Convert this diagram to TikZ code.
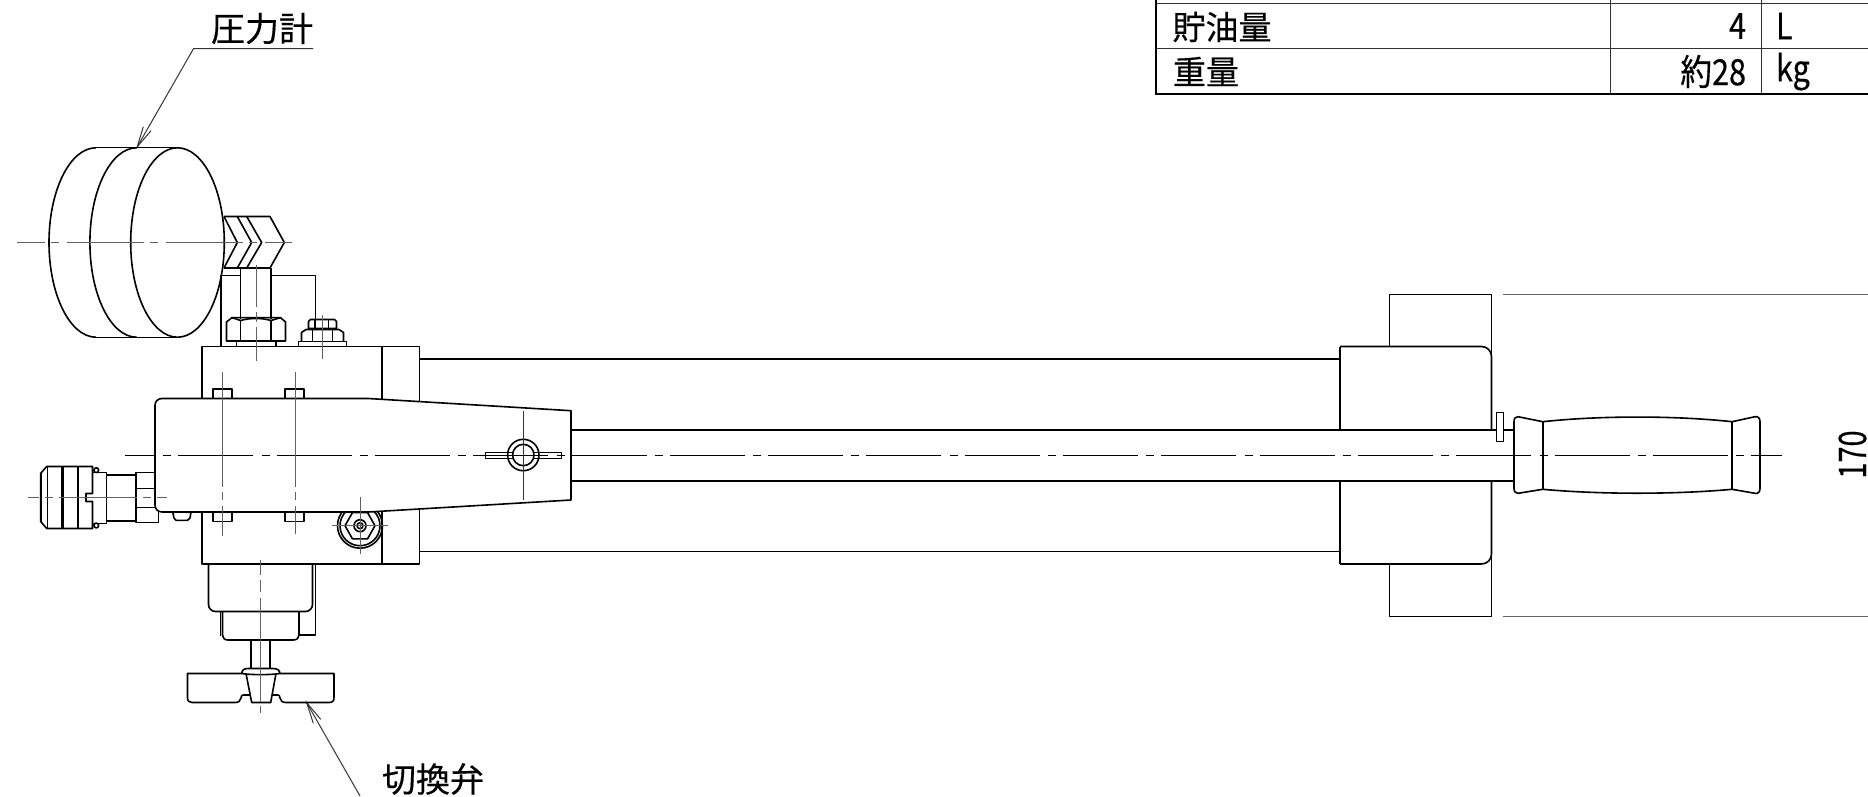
\documentclass[tikz,border=0pt]{standalone}
\usepackage{fontspec}
\usepackage{graphicx}
\setmainfont{Noto Sans CJK JP}[UprightFeatures={FakeBold=0.4}]
\tikzset{
  ln/.style={draw=black,line width=1.6pt,line join=round},
  fl/.style={ln,fill=white},
  thk/.style={draw=black,line width=2.2pt},
  tn/.style={draw=black!80,line width=1pt},
  cl/.style={draw=black!62,line width=1pt},
  clm/.style={draw=black,line width=1pt},
  lbl/.style={inner sep=0pt,outer sep=0pt,font=\fontsize{33}{33}\selectfont},
  nar/.style={inner sep=0pt,outer sep=0pt,font=\fontsize{36}{36}\selectfont},
  ext/.style={draw=black!60,line width=1.4pt}
}
\begin{document}
\begin{tikzpicture}[x=1pt,y=-1pt]
\useasboundingbox (0,0) rectangle (1868,796);
% table
\draw[tn] (1156,3.5) -- (1868,3.5);
\draw[tn] (1156,48.5) -- (1868,48.5);
\draw[tn] (1610.5,0) -- (1610.5,94.3);
\draw[tn] (1761.5,0) -- (1761.5,94.3);
\draw[thk] (1156,0) -- (1156,94.3) -- (1868,94.3);
\node[lbl] (t1) at (1222,27) {貯油量};
\node[lbl] (t2) at (1206,71.5) {重量};
\node[nar,anchor=east] (t3) at (1746,26) {\scalebox{.85}[1]{4}};
\node[nar,anchor=east] (t4) at (1746,71.5) {\scalebox{.88}[1]{約}\scalebox{.85}[1]{28}};
\node[nar,anchor=west] (t5) at (1776,26) {\scalebox{.85}[1]{L}};
\node[nar,anchor=west] (t6) at (1776,71.5) {\scalebox{.85}[1]{kg}};
% labels
\node[lbl,font=\fontsize{34}{34}\selectfont] (p1) at (262,28.5) {圧力計};
\node[lbl,font=\fontsize{34}{34}\selectfont] (p2) at (433,779) {切換弁};
\node[nar,rotate=90,font=\fontsize{38}{38}\selectfont] (dim) at (1852.5,454.5) {\scalebox{.76}[1]{170}};
\draw[ext] (1503,294.5) -- (1868,294.5);
\draw[ext] (1503,616.5) -- (1868,616.5);
% leaders
\draw[tn] (313,48.7) -- (193.5,48.7) -- (137.3,146.7);
\draw[tn] (143.3,126.7) -- (137.3,146.7) -- (151,130.7);
\draw[tn] (360,796) -- (306.7,702.7);
\draw[tn] (313.3,723.3) -- (306.7,702.7) -- (320.7,719.3);
% gauge mount
\draw[ln] (221,346.5) -- (221,275.5) -- (240.5,275.5);
\draw[ln] (271,275.5) -- (315.5,275.5) -- (315.5,319);
\draw[ln] (224,216.5) -- (270,216.5) -- (284.3,242.5) -- (270,268) -- (224,268);
\draw[ln] (224,216.5) -- (237.3,242.5) -- (224,268);
\draw[ln] (237.3,216.5) -- (251.7,242.5) -- (237.3,268);
\draw[ln] (246.7,216.5) -- (261.7,242.5) -- (246.7,268);
\draw[ln] (240.5,268) -- (240.5,319) (271,268) -- (271,319);
% gauge
\draw[ln] (96,147.8) arc[start angle=90,end angle=270,x radius=47pt,y radius=94.7pt];
\draw[ln] (136.7,147.8) arc[start angle=90,end angle=270,x radius=46.8pt,y radius=94.7pt];
\draw[ln] (96,147.5) -- (177.5,147.5) (96,337.5) -- (177.5,337.5);
\draw[ln] (177.5,242.5) circle[x radius=46.8pt,y radius=94.7pt];
% big nut
\draw[ln] (236.5,341) rectangle (276,346.5);
\draw[ln] (226.5,341) -- (226.5,322) -- (232,317.6) -- (280.5,317.6) -- (285.5,322) -- (285.5,341) -- cycle;
\draw[ln] (240.5,341) -- (240.5,320.5) (271,341) -- (271,320.5);
\draw[ln] (232,317.6) -- (240.5,320.5) .. controls (250,317.8) and (262,317.8) .. (271,320.5) -- (280.5,317.6);
% small nut
\draw[ln] (298.5,341.5) rectangle (346.5,346.5);
\draw[ln] (301.5,341.5) -- (301.5,332.5) -- (306,329.5) -- (339,329.5) -- (343.5,332.5) -- (343.5,341.5);
\draw[ln] (312.5,341.5) -- (312.5,330) (332.5,341.5) -- (332.5,330);
\draw[ln] (308.5,328.5) -- (308.5,321.5) -- (310.5,319.5) -- (334.5,319.5) -- (336.5,321.5) -- (336.5,328.5) -- cycle;
\draw[ln] (315,328.5) -- (315,319.5) (328.5,328.5) -- (328.5,319.5);
% body block
\draw[ln] (202,346.5) rectangle (419.5,564);
\draw[ln] (382,346.5) -- (382,564);
\draw[ln] (420,359) -- (1340,359) (420,551.5) -- (1340,551.5);
% rear plate and block
\draw[ln] (1389.5,346.5) -- (1389.5,294.5) -- (1491.5,294.5) -- (1491.5,356);
\draw[ln] (1389.5,564) -- (1389.5,616.5) -- (1491.5,616.5) -- (1491.5,555);
\draw[ln] (1340,346.5) -- (1481.5,346.5) arc[start angle=90,end angle=0,radius=10pt] -- (1491.5,430);
\draw[ln] (1340,564) -- (1481.5,564) arc[start angle=270,end angle=360,radius=10pt] -- (1491.5,481);
\draw[ln] (1340,346.5) -- (1340,564);
% rod
\path[fill=white] (571,430) rectangle (1496.5,481);
\draw[ln] (571,430) -- (1496.5,430) (571,481) -- (1514,481) (1503.5,430) -- (1514,430);
\draw[fl] (1496.5,412.5) rectangle (1503.5,441.5);
% handle
\draw[fl] (1518,416.7) -- (1542.8,421.7) .. controls (1600,415.5) and (1675,415.5) .. (1732,421.7) -- (1755,416.7)
  .. controls (1758,416.2) and (1760,418) .. (1760,421.7) -- (1760,488.3)
  .. controls (1760,492) and (1758,494) .. (1755,493.3) -- (1732,489.3)
  .. controls (1675,494.5) and (1600,494.5) .. (1542.8,489.3) -- (1518,493.3)
  .. controls (1515.5,493.6) and (1514,491.5) .. (1514,488.3) -- (1514,421.7)
  .. controls (1514,418.5) and (1515.5,416.4) .. (1518,416.7) -- cycle;
\draw[ln] (1542.8,421.7) -- (1542.8,489.3) (1732,421.7) -- (1732,489.3);
% side fitting
\draw[ln] (360,525.7) circle[radius=22.5pt];
\draw[ln] (360,525.7) circle[radius=20pt];
\draw[ln] (345,525.7) -- (352.5,512.5) -- (367.5,512.5) -- (375,525.7) -- (367.5,538.9) -- (352.5,538.9) -- cycle;
\draw[ln] (360,525.7) circle[radius=6pt];
\draw[ln] (360,525.7) circle[radius=3pt];
% screws
\foreach \bx in {212.7,285}{
  \draw[ln] (\bx,398.5) -- (\bx,389) -- ++(19.2,0) -- ++(0,9.5);
  \draw[ln] (\bx,512) -- (\bx,521.5) -- ++(19.2,0) -- ++(0,-9.5);
}
% coupler
\draw[ln] (155,472.5) -- (136,472.5) -- (136,522.5) -- (158.5,522.5) -- (158.5,510);
\draw[ln] (136,488.5) -- (155,488.5) (136,507.5) -- (155,507.5);
\draw[ln] (136,475) -- (106.5,475) (106.5,521) -- (136,521);
\draw[ln] (92.5,472.5) -- (106.5,472.5) -- (106.5,523.5) -- (92.5,523.5);
\draw[ln] (46.7,466.5) -- (92.5,466.5) -- (92.5,493.5) -- (86,493.5) -- (86,501.5) -- (92.5,501.5) -- (92.5,528.5) -- (46.7,528.5) -- (40.7,521.5) -- (40.7,473.3) -- cycle;
\draw[line width=1.9pt] (40.7,473.3) -- (40.7,521.5);
\draw[ln] (47.5,466.5) -- (47.5,528.5);
\draw[thk] (62.5,466.5) -- (62.5,528.5) (78,466.5) -- (78,528.5);
\draw[ln] (96.3,470.2) circle[radius=2.4pt] (96.3,525.5) circle[radius=2.4pt];
\draw[ln] (172.7,512) -- (174,518) -- (176,520.3) -- (187.5,520.3) -- (190,518) -- (191,512);
% arm
\path[fill=white] (163,398.5) -- (368.3,398.5) -- (571,410.7) -- (571,500) -- (368.3,512) -- (163,512) -- (155,505) -- (155,405) -- cycle;
\draw[ln] (155,505) .. controls (155,509) and (158,512) .. (162,512) -- (368.3,512) -- (571,500) -- (571,410.7) -- (368.3,398.5) -- (162,398.5) .. controls (158,398.5) and (155,401.3) .. (155,405.3) -- cycle;
% valve
\draw[ln] (312.5,564) -- (312.5,604.5) arc[start angle=0,end angle=-90,radius=7pt] -- (215.5,611.5) arc[start angle=270,end angle=180,radius=7pt] -- (208.5,564);
\draw[ln] (315.5,564) -- (315.5,635) -- (299,635);
\draw[ln] (222.5,611.5) -- (222.5,635) .. controls (222.5,638) and (224.5,640) .. (228,640) -- (293,640) .. controls (297,640) and (299,638) .. (299,635) -- (299,611.5);
\draw[line width=1.4pt] (220.5,612) -- (220.5,635.5);
\draw[ln] (251,640) -- (251,668.5) (270,640) -- (270,668.5);
% knob
\draw[ln] (241.7,673.5) -- (187.5,673.5) -- (187.5,697.5) .. controls (187.5,701) and (189,702.5) .. (192,702.5) -- (235,702.5) .. controls (238.5,702.5) and (240.5,701) .. (241,698) .. controls (241.3,696) and (241.7,695) .. (243,695) -- (249.8,695);
\draw[ln] (280,673.5) -- (334,673.5) -- (334,697.5) .. controls (334,701) and (332.5,702.5) .. (329,702.5) -- (286,702.5) .. controls (282.5,702.5) and (280.5,701) .. (280,698) .. controls (279.7,696) and (279.3,695) .. (278,695) -- (272,695);
\draw[ln] (246,673.5) -- (251.7,702.5) -- (270.7,702.5) -- (276,673.5);
\draw[ln] (241.7,673.5) .. controls (242,670) and (244,668.5) .. (248,668.5) -- (273,668.5) .. controls (277,668.5) and (279.7,670) .. (280,673.5) .. controls (270,675) and (251,675) .. (241.7,673.5) -- cycle;
% wing nut
\draw[ln] (523.3,455) circle[radius=15.7pt];
\draw[fl] (523.3,455) circle[radius=10.7pt];
\draw[ln] (513,452.5) -- (485.5,452.5) -- (485.5,458.5) -- (513,458.5);
\draw[ln] (533.6,452.5) -- (561.5,452.5) -- (561.5,458.5) -- (533.6,458.5);
% centre lines
\draw[cl,dash pattern=on 77 off 6 on 8 off 8,dash phase=49.6] (17.3,242.5) -- (291.7,242.5);
\draw[clm,dash pattern=on 75 off 8.3 on 8 off 7,dash phase=45] (125,455.5) -- (1782,455.5);
\draw[cl,dash pattern=on 78 off 6 on 8 off 6,dash phase=67] (28.3,497.5) -- (166.7,497.5);
\draw[cl,dash pattern=on 115 off 5 on 8 off 6] (222,371.7) -- (222,536);
\draw[cl,dash pattern=on 115 off 5 on 8 off 6] (295,371.7) -- (295,534);
\draw[cl,dash pattern=on 15 off 5 on 12 off 6 on 104 off 4 on 9 off 99] (260.5,560) -- (260.5,713);
\draw[cl,dash pattern=on 42 off 5 on 10 off 5] (256,265) -- (256,360.7);
\draw[cl] (322.5,315) -- (322.5,359.3);
\draw[cl] (331.7,525.5) -- (388.3,525.5);
\draw[cl] (360,497.3) -- (360,554);
\draw[tn] (523.5,410.7) -- (523.5,500);
\end{tikzpicture}
\end{document}
